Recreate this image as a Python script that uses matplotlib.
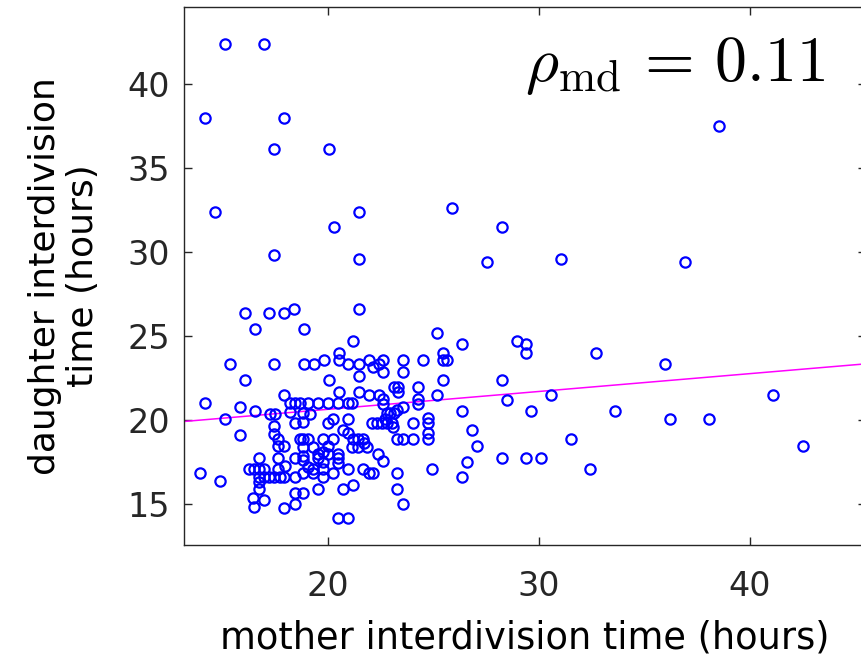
import matplotlib
matplotlib.use("Agg")
import matplotlib.pyplot as plt
import numpy as np

# mother interdivision time (hours)
mother = [
    14.16, 15.11, 16.97, 17.91, 17.45, 20.03, 38.54, 14.63, 21.44, 20.25,
    17.45, 21.44, 25.88, 28.22, 27.52, 31.04, 36.90, 16.06, 17.20, 17.92,
    18.38, 21.44, 16.52, 18.85, 21.17, 20.51, 25.18, 26.35, 28.93, 29.39,
    29.39, 32.68, 25.42, 35.95, 33.62, 36.20, 38.07, 41.11, 42.50,
    15.34, 17.45, 18.85, 19.32, 19.80, 20.51, 20.96, 21.44, 21.91, 22.12,
    22.39, 22.58, 22.58, 23.55, 23.55, 24.48, 25.42, 25.65, 21.44, 20.03,
    16.06, 25.42, 28.22, 20.51, 21.44, 21.91, 22.39, 22.59, 22.59, 23.10,
    23.29, 23.29, 24.24, 24.24, 24.24, 25.18, 23.55, 28.46, 30.56, 26.35,
    29.63, 24.00, 24.72, 24.72, 26.81, 24.72, 24.72, 23.55, 24.00, 27.05,
    31.50, 28.22, 29.39, 30.09, 26.59, 24.94, 26.35, 32.43, 23.55, 17.92,
    14.17, 15.81, 16.52, 15.11, 15.81,
    18.19, 18.43, 18.67, 19.05, 19.52, 20.00, 20.48, 20.95, 21.11,
    17.24, 17.48, 18.19, 18.43, 17.43, 17.43, 17.64, 17.64, 17.92, 18.67,
    16.74, 17.64, 18.40, 17.96, 16.25, 16.48, 16.72, 16.97, 17.64,
    16.72, 16.97, 17.21, 17.45, 17.69, 17.92, 18.40, 16.72, 16.72, 18.40,
    16.45, 16.97, 16.50, 18.40, 17.92, 13.93, 14.87,
    18.81, 19.13, 18.81, 20.00, 20.24, 20.95, 20.71, 20.95, 18.81, 19.05,
    19.76, 20.24, 21.19, 21.43, 21.66, 21.11, 21.43, 21.82, 18.81, 19.29,
    20.00, 19.52, 19.76, 20.48, 20.48, 20.48, 18.81, 18.81, 19.52, 19.76,
    20.00, 19.05, 19.29, 19.76, 18.81, 19.29, 19.76, 20.24, 20.95, 21.66,
    19.52, 20.71, 21.19, 18.81, 20.48, 20.95,
    22.79, 22.91, 23.10, 23.26, 22.71, 22.08, 22.32, 22.55, 22.79, 23.03,
    23.07, 23.26, 21.68, 22.34, 22.60, 21.91, 22.12, 23.26, 23.26,
]

# daughter interdivision time (hours)
daughter = [
    37.96, 42.37, 42.39, 37.96, 36.12, 36.12, 37.47, 32.40, 32.40, 31.47,
    29.85, 29.60, 32.64, 31.47, 29.38, 29.60, 29.38, 26.35, 26.35, 26.35,
    26.59, 26.59, 25.44, 25.44, 24.73, 24.02, 25.18, 24.51, 24.73, 24.51,
    24.02, 24.02, 24.02, 23.34, 20.55, 20.08, 20.08, 21.48, 18.46,
    23.32, 23.32, 23.32, 23.32, 23.56, 23.56, 23.32, 23.32, 23.56, 23.16,
    23.32, 23.56, 22.87, 23.56, 22.87, 23.56, 23.56, 23.56, 22.63, 22.39,
    22.39, 22.39, 22.39, 21.70, 21.70, 21.48, 21.48, 21.29, 20.99, 21.98,
    21.98, 21.69, 21.98, 21.29, 20.99, 21.48, 20.79, 21.23, 21.48, 20.55,
    20.55, 19.86, 20.14, 19.86, 19.39, 19.21, 18.91, 18.91, 18.91, 18.46,
    18.91, 17.76, 17.76, 17.76, 17.53, 17.07, 16.60, 17.07, 15.00, 21.48,
    21.01, 20.77, 20.56, 20.08, 19.15,
    21.04, 21.04, 21.04, 21.03, 21.03, 21.03, 21.03, 21.03, 21.03,
    20.34, 20.34, 20.49, 19.86, 19.64, 19.17, 18.87, 18.46, 18.46, 18.91,
    17.73, 17.73, 17.73, 17.27, 17.07, 17.07, 17.07, 17.07, 17.07,
    16.60, 16.60, 16.60, 16.60, 16.60, 16.60, 16.60, 16.34, 15.90, 15.65,
    15.35, 15.25, 14.82, 15.00, 14.76, 16.84, 16.38,
    20.43, 20.34, 19.90, 19.84, 20.10, 20.10, 19.41, 19.21, 18.91, 18.91,
    18.91, 18.91, 18.91, 18.91, 18.91, 18.42, 18.42, 18.42, 18.42, 18.42,
    18.46, 18.02, 18.12, 18.02, 17.73, 17.47, 17.86, 17.63, 17.73, 17.53,
    18.02, 17.23, 17.09, 17.07, 16.84, 16.84, 16.60, 16.84, 17.09, 17.09,
    15.90, 15.90, 16.14, 15.65, 14.17, 14.17,
    20.40, 20.40, 20.43, 20.59, 20.10, 19.86, 19.86, 19.86, 19.86, 19.86,
    19.60, 18.91, 18.62, 17.98, 17.58, 16.84, 16.84, 16.84, 15.90,
]

# least-squares fit line (daughter = intercept + slope * mother)
fit_intercept = 18.53
fit_slope = 0.106
rho_text = r"$\rho_{\rm md}\, =\, 0.11$"

x_ticks = [20, 30, 40]
y_ticks = [15, 20, 25, 30, 35, 40]
x_limits = (13.16, 45.5)
y_limits = (12.58, 44.57)

plt.rcParams["font.family"] = ["DejaVu Sans"]
plt.rcParams["mathtext.fontset"] = "cm"

fig = plt.figure(figsize=(8.61, 6.66), dpi=100)
ax = fig.add_axes([184 / 861, 1 - 545 / 666, (866 - 184) / 861, (545 - 7) / 666])

ax.plot(mother, daughter, linestyle="none", marker="o", markersize=7.4,
        markerfacecolor="none", markeredgecolor="#0000FF", markeredgewidth=1.6,
        zorder=3)

xs = np.array(x_limits)
ax.plot(xs, fit_intercept + fit_slope * xs, color="#FF00FF", linewidth=1.1, zorder=2)

ax.set_xlim(*x_limits)
ax.set_ylim(*y_limits)
ax.set_xticks(x_ticks)
ax.set_yticks(y_ticks)

spine_col = "#262626"
for s in ax.spines.values():
    s.set_color(spine_col)
    s.set_linewidth(1.0)
ax.tick_params(direction="in", length=5.8, width=1.0, colors=spine_col,
               top=True, right=True, labelsize=24)
ax.tick_params(axis="y", pad=10)
ax.tick_params(axis="x", pad=18)
for lab in ax.get_xticklabels() + ax.get_yticklabels():
    lab.set_color("#262626")

ax.set_xlabel("mother interdivision time (hours)", fontsize=26.5, labelpad=12, color="black")
ax.set_ylabel("daughter interdivision\ntime (hours)", fontsize=26, labelpad=20,
              color="black", linespacing=1.15)

ax.text(0.94, 0.862, rho_text, transform=ax.transAxes, fontsize=46,
        ha="right", va="baseline", color="black")

fig.savefig("out.png", dpi=100)
